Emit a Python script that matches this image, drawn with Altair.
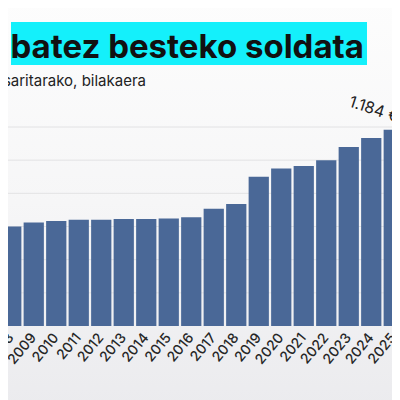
import altair as alt
import pandas as pd

years = [str(y) for y in range(2008, 2026)]
values = [600, 624, 633.3, 641.4, 641.4, 645.3, 645.3, 648.6, 655.2,
          707.6, 735.9, 900, 950, 965, 1000, 1080, 1134, 1184]
label_years = ["2025"]
label_values = [1184]
label_texts = ["1.184 €"]
grid_values = [200, 400, 600, 800, 1000, 1200]
title_text = "o batez besteko soldata"
subtitle_text = "saritarako, bilakaera"

df = pd.DataFrame({"urtea": years, "soldata": values})
lab = pd.DataFrame({"urtea": label_years, "soldata": label_values, "testua": label_texts})
grid = pd.DataFrame({"g": grid_values})
one = pd.DataFrame({"t": [title_text], "s": [subtitle_text]})

xs = alt.X("urtea:N", sort=years, title=None,
           scale=alt.Scale(paddingInner=0.1, paddingOuter=0.05),
           axis=alt.Axis(labelAngle=-50, labelFont="Inter", labelFontSize=14,
                         labelFontWeight=500, labelColor="#262626",
                         ticks=False, domain=False,
                         labelPadding=9, grid=False, zindex=2))
ys = alt.Y("soldata:Q", title=None, scale=alt.Scale(domain=[0, 1200], nice=False),
           axis=None)

bg = alt.Chart(one).mark_rect(
    color=alt.Gradient(gradient="linear", x1=0, x2=0, y1=0, y2=1,
                       stops=[alt.GradientStop(color="#fdfdfd", offset=0),
                              alt.GradientStop(color="#f6f6f7", offset=0.5),
                              alt.GradientStop(color="#ebebee", offset=1)])
).encode(x=alt.value(0), x2=alt.value(410), y=alt.value(-130), y2=alt.value(280))

gridlines = alt.Chart(grid).mark_rule(color="#e2e2e4", strokeWidth=1).encode(
    y=alt.Y("g:Q", scale=alt.Scale(domain=[0, 1200], nice=False), axis=None))

bars = alt.Chart(df).mark_bar(color="#4a6897").encode(x=xs, y=ys)

label = alt.Chart(lab).mark_text(
    font="Inter", fontSize=16, color="#222222", angle=18,
    align="center", baseline="middle", dx=-25, dy=-13
).encode(x=alt.X("urtea:N", sort=years), y=alt.Y("soldata:Q"), text="testua:N")

hl = alt.Chart(one).mark_rect(color="#14f0fb").encode(
    x=alt.value(11), x2=alt.value(367), y=alt.value(-105), y2=alt.value(-62))

title = alt.Chart(one).mark_text(
    font="Inter", fontSize=33, fontWeight="bold", color="#111111",
    align="right", baseline="alphabetic"
).encode(x=alt.value(364), y=alt.value(-69), text="t:N")

subtitle = alt.Chart(one).mark_text(
    font="Inter", fontSize=15, color="#222222",
    align="right", baseline="alphabetic"
).encode(x=alt.value(146), y=alt.value(-41), text="s:N")

chart = alt.layer(bg, gridlines, bars, label, hl, title, subtitle).properties(
    width=405, height=199,
    padding={"left": -8, "top": 119, "right": -13, "bottom": 74},
    autosize=alt.AutoSizeParams(type="none"),
    background="#ffffff"
).configure_view(strokeWidth=0)

chart.save("out.html", embed_options={"renderer": "svg", "actions": False})
